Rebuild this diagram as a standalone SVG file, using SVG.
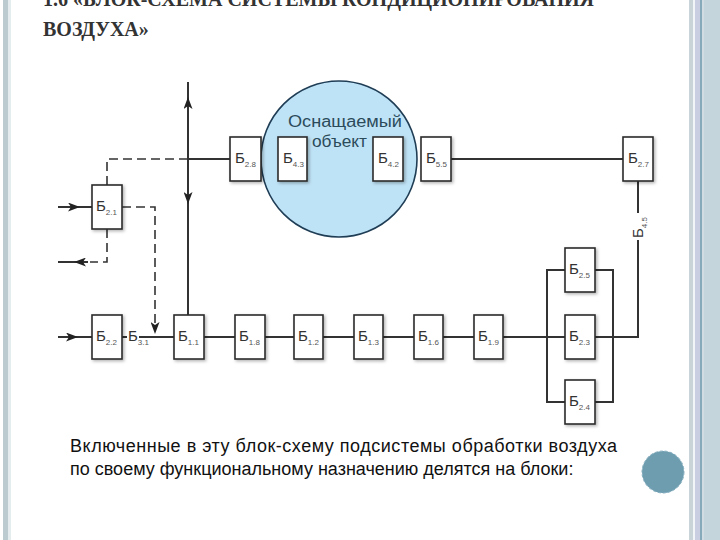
<svg xmlns="http://www.w3.org/2000/svg" width="720" height="540" viewBox="0 0 720 540">
<style>
.bx{fill:#fff;stroke:#2a2a2a;stroke-width:1.6;filter:url(#sh)}
.lb{font-family:"Liberation Sans",Arial,sans-serif;font-size:15px;fill:#333}
.sb{font-size:8px;fill:#555}
.ln{fill:none;stroke:#333;stroke-width:2}
.ds{fill:none;stroke:#333;stroke-width:1.6;stroke-dasharray:9,5}
.ah{fill:none;stroke:none;marker-end:url(#arr)}
.ttl{font-family:"Liberation Serif","Times New Roman",serif;font-size:20px;font-weight:bold;fill:#333}
.bt{font-family:"Liberation Sans",Arial,sans-serif;font-size:18px;fill:#111}
.ob{font-family:"Liberation Sans",Arial,sans-serif;font-size:16px;fill:#2b4b5b}
</style>
<defs>
<filter id="sh" x="-30%" y="-30%" width="160%" height="160%">
<feDropShadow dx="1.5" dy="1.5" stdDeviation="1.5" flood-color="#000" flood-opacity="0.3"/>
</filter>
<marker id="arr" viewBox="0 0 12 9" refX="12" refY="4.5" markerWidth="12" markerHeight="9" markerUnits="userSpaceOnUse" orient="auto">
<path d="M0,0 L12,4.5 L0,9 L3,4.5 z" fill="#222"/>
</marker>
</defs>
<rect width="720" height="540" fill="#fff"/>
<!-- borders -->
<rect x="3" y="0" width="5" height="540" fill="#bccbcf"/>
<rect x="8" y="0" width="3" height="540" fill="#e4ecee"/>
<rect x="689" y="0" width="4" height="540" fill="#c8d4d8"/>
<rect x="693" y="0" width="2" height="540" fill="#f2f5f7"/>
<rect x="695" y="0" width="5" height="540" fill="#c9cfe0"/>
<rect x="700" y="0" width="2" height="540" fill="#87aabb"/>
<rect x="702" y="0" width="2" height="540" fill="#d0dbe2"/>
<rect x="704" y="0" width="16" height="540" fill="#c4d5dc"/>
<!-- title -->
<text class="ttl" x="43" y="6">1.6 «БЛОК-СХЕМА СИСТЕМЫ КОНДИЦИОНИРОВАНИЯ</text>
<text class="ttl" x="43" y="36">ВОЗДУХА»</text>
<!-- object circle -->
<g id="object">
<circle cx="339" cy="159" r="78" fill="#bfe3f6" stroke="#1f3d55" stroke-width="1.6"/>
<text class="ob" x="288" y="127" textLength="114" lengthAdjust="spacingAndGlyphs">Оснащаемый</text>
<text class="ob" x="312" y="147" textLength="55" lengthAdjust="spacingAndGlyphs">объект</text>
</g>
<!-- connectors -->
<g id="connectors">
<path class="ln" d="M188,82 V315"/>
<path class="ln" d="M188,159 H230"/>
<path class="ln" d="M451,159 H623"/>
<path class="ln" d="M638,181 V213"/>
<path class="ln" d="M638,240 V337 H595"/>
<path class="ln" d="M58,207 H92"/>
<path class="ln" d="M88,262 H58"/>
<path class="ln" d="M58,337 H92"/>
<path class="ln" d="M122,337 H127"/>
<path class="ln" d="M139,337 H174"/>
<path class="ln" d="M204,337 H235 M265,337 H294 M323,337 H354 M383,337 H414 M443,337 H474 M503,337 H565"/>
<path class="ln" d="M565,270 H547 V402 H565 M595,270 H613 V402 H595"/>
<path class="ds" d="M188,159 H107 V185"/>
<path class="ds" d="M107,229 V262 H90"/>
<path class="ds" d="M122,207 H155 V330"/>
<path class="ah" d="M188,112 V97"/>
<path class="ah" d="M188,190 V204"/>
<path class="ah" d="M66,207 H80"/>
<path class="ah" d="M86,262 H74"/>
<path class="ah" d="M64,337 H78"/>
<path class="ah" d="M155,318 V334"/>
<text class="lb" x="128" y="341">Б<tspan class="sb" dy="4">3.1</tspan></text>
<text class="lb" transform="translate(643,238) rotate(-90)">Б<tspan class="sb" dy="4">4.5</tspan></text>
</g>
<!-- blocks -->
<g id="b28"><rect class="bx" x="230" y="137" width="31" height="44"/><text class="lb" x="235" y="163">Б<tspan class="sb" dy="4">2.8</tspan></text></g>
<g id="b43"><rect class="bx" x="278" y="137" width="29" height="44"/><text class="lb" x="283" y="163">Б<tspan class="sb" dy="4">4.3</tspan></text></g>
<g id="b42"><rect class="bx" x="373" y="137" width="30" height="44"/><text class="lb" x="378" y="163">Б<tspan class="sb" dy="4">4.2</tspan></text></g>
<g id="b55"><rect class="bx" x="421" y="137" width="30" height="44"/><text class="lb" x="426" y="163">Б<tspan class="sb" dy="4">5.5</tspan></text></g>
<g id="b27"><rect class="bx" x="623" y="137" width="30" height="44"/><text class="lb" x="628" y="163">Б<tspan class="sb" dy="4">2.7</tspan></text></g>
<g id="b21"><rect class="bx" x="92" y="185" width="30" height="44"/><text class="lb" x="96" y="211">Б<tspan class="sb" dy="4">2.1</tspan></text></g>
<g id="b22"><rect class="bx" x="92" y="315" width="30" height="44"/><text class="lb" x="96" y="341">Б<tspan class="sb" dy="4">2.2</tspan></text></g>
<g id="b11"><rect class="bx" x="174" y="315" width="30" height="44"/><text class="lb" x="178" y="341">Б<tspan class="sb" dy="4">1.1</tspan></text></g>
<g id="b18"><rect class="bx" x="235" y="315" width="30" height="44"/><text class="lb" x="239" y="341">Б<tspan class="sb" dy="4">1.8</tspan></text></g>
<g id="b12"><rect class="bx" x="294" y="315" width="29" height="44"/><text class="lb" x="298" y="341">Б<tspan class="sb" dy="4">1.2</tspan></text></g>
<g id="b13"><rect class="bx" x="354" y="315" width="29" height="44"/><text class="lb" x="358" y="341">Б<tspan class="sb" dy="4">1.3</tspan></text></g>
<g id="b16"><rect class="bx" x="414" y="315" width="29" height="44"/><text class="lb" x="418" y="341">Б<tspan class="sb" dy="4">1.6</tspan></text></g>
<g id="b19"><rect class="bx" x="474" y="315" width="29" height="44"/><text class="lb" x="478" y="341">Б<tspan class="sb" dy="4">1.9</tspan></text></g>
<g id="b25"><rect class="bx" x="565" y="248" width="30" height="44"/><text class="lb" x="569" y="274">Б<tspan class="sb" dy="4">2.5</tspan></text></g>
<g id="b23"><rect class="bx" x="565" y="315" width="30" height="44"/><text class="lb" x="569" y="341">Б<tspan class="sb" dy="4">2.3</tspan></text></g>
<g id="b24"><rect class="bx" x="565" y="380" width="30" height="44"/><text class="lb" x="569" y="406">Б<tspan class="sb" dy="4">2.4</tspan></text></g>
<!-- caption -->
<text class="bt" x="70" y="452" textLength="547" lengthAdjust="spacing">Включенные в эту блок-схему подсистемы обработки воздуха</text>
<text class="bt" x="70" y="475">по своему функциональному назначению делятся на блоки:</text>
<circle cx="663" cy="472" r="21" fill="#6e9db0" stroke="#86afc0" stroke-width="1" stroke-dasharray="3,2"/>
</svg>
